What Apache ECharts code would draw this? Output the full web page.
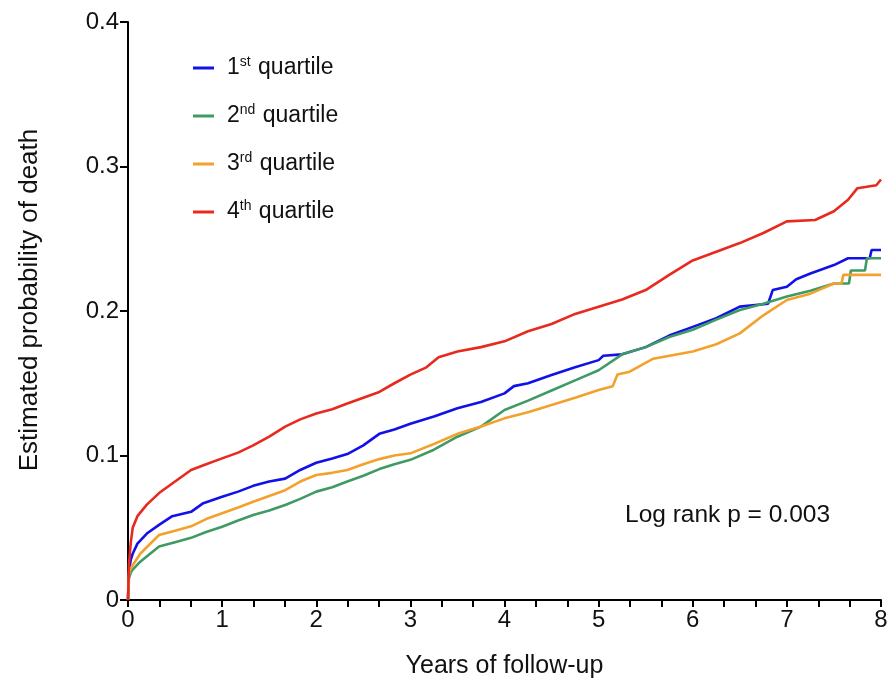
<!DOCTYPE html>
<html>
<head>
<meta charset="utf-8">
<script src="https://cdn.jsdelivr.net/npm/echarts@6/dist/echarts.min.js"></script>
<style>
  html, body { margin: 0; padding: 0; background: #fff; }
  #chart { width: 893px; height: 688px; }
</style>
</head>
<body>
<div id="chart"></div>
<script>
// years of follow-up, estimated probability of death
var q1 = [[0,0],[0.01,0.02],[0.03,0.028],[0.05,0.032],[0.1,0.039],[0.2,0.046],[0.33,0.052],[0.47,0.058],[0.67,0.061],[0.8,0.067],[1,0.0715],[1.17,0.075],[1.33,0.079],[1.5,0.082],[1.67,0.084],[1.83,0.09],[2,0.095],[2.17,0.098],[2.33,0.101],[2.5,0.107],[2.67,0.115],[2.83,0.118],[3,0.122],[3.25,0.127],[3.5,0.1327],[3.75,0.137],[4,0.143],[4.1,0.148],[4.25,0.15],[4.5,0.1557],[4.75,0.161],[5,0.166],[5.05,0.169],[5.25,0.17],[5.5,0.175],[5.75,0.183],[6,0.189],[6.25,0.195],[6.5,0.203],[6.8,0.205],[6.85,0.2145],[7,0.2168],[7.1,0.222],[7.25,0.226],[7.5,0.2318],[7.65,0.2365],[7.88,0.2365],[7.9,0.2422],[8,0.2422]];
var q2 = [[0,0],[0.01,0.015],[0.03,0.019],[0.05,0.021],[0.13,0.0265],[0.33,0.037],[0.5,0.04],[0.67,0.043],[0.83,0.047],[1,0.0507],[1.17,0.055],[1.33,0.0588],[1.5,0.062],[1.67,0.0657],[1.83,0.07],[2,0.075],[2.17,0.078],[2.33,0.082],[2.5,0.086],[2.67,0.0906],[2.83,0.094],[3,0.097],[3.25,0.104],[3.5,0.113],[3.75,0.12],[4,0.1315],[4.25,0.138],[4.5,0.145],[4.75,0.152],[5,0.159],[5.25,0.17],[5.5,0.175],[5.75,0.182],[6,0.187],[6.25,0.194],[6.5,0.2007],[6.75,0.205],[7,0.21],[7.25,0.214],[7.5,0.219],[7.66,0.219],[7.68,0.228],[7.83,0.228],[7.85,0.2365],[8,0.2365]];
var q3 = [[0,0],[0.01,0.018],[0.03,0.022],[0.05,0.024],[0.13,0.032],[0.33,0.045],[0.5,0.048],[0.67,0.051],[0.83,0.056],[1,0.06],[1.17,0.064],[1.33,0.068],[1.5,0.072],[1.67,0.076],[1.83,0.082],[2,0.0865],[2.17,0.088],[2.33,0.09],[2.5,0.094],[2.67,0.0975],[2.83,0.1],[3,0.1015],[3.25,0.108],[3.5,0.115],[3.75,0.12],[4,0.1257],[4.25,0.13],[4.5,0.135],[4.75,0.14],[5,0.1453],[5.15,0.148],[5.2,0.156],[5.33,0.158],[5.58,0.167],[6,0.172],[6.25,0.177],[6.5,0.1845],[6.75,0.197],[7,0.2076],[7.25,0.212],[7.5,0.219],[7.58,0.219],[7.6,0.225],[8,0.225]];
var q4 = [[0,0],[0.01,0.025],[0.03,0.04],[0.05,0.05],[0.1,0.058],[0.2,0.066],[0.33,0.074],[0.5,0.082],[0.67,0.09],[0.83,0.094],[1,0.098],[1.17,0.102],[1.33,0.107],[1.5,0.113],[1.67,0.12],[1.83,0.125],[2,0.129],[2.17,0.132],[2.33,0.136],[2.5,0.14],[2.67,0.144],[2.83,0.15],[3,0.156],[3.17,0.161],[3.3,0.168],[3.5,0.172],[3.75,0.175],[4,0.179],[4.25,0.186],[4.5,0.191],[4.75,0.198],[5,0.203],[5.25,0.208],[5.5,0.2145],[5.75,0.225],[6,0.235],[6.25,0.241],[6.5,0.247],[6.75,0.254],[7,0.262],[7.3,0.263],[7.5,0.269],[7.65,0.277],[7.75,0.285],[7.95,0.287],[8,0.291]];

var names = ['1{s|st} quartile', '2{s|nd} quartile', '3{s|rd} quartile', '4{s|th} quartile'];
var colors = ['#1111e8', '#3f9a64', '#f2a22c', '#e8291e'];
var curves = [q1, q2, q3, q4];

var font = 'Liberation Sans, Arial, sans-serif';
var myChart = echarts.init(document.getElementById('chart'));

series_data = [];
for (var i = 0; i < curves.length; i++) {
  series_data.push({
    name: names[i],
    type: 'line',
    data: curves[i],
    showSymbol: false,
    color: colors[i],
    lineStyle: { width: 2.6, color: colors[i] },
    animation: false
  });
}

option = {
  backgroundColor: '#fff',
  textStyle: { fontFamily: font },
  legend: {
    data: names,
    orient: 'vertical',
    left: 188,
    top: 50,
    itemWidth: 21,
    itemHeight: 3,
    itemGap: 22,
    icon: 'rect',
    textStyle: {
      fontSize: 23,
      lineHeight: 26,
      color: '#111',
      fontFamily: font,
      padding: [0, 0, 0, 8],
      rich: {
        s: { fontSize: 14, lineHeight: 14, verticalAlign: 'top', padding: [0, 1, 0, 0], fontFamily: font, color: '#111' }
      }
    }
  },
  grid: { left: 128, right: 12, top: 22, bottom: 88 },
  xAxis: {
    type: 'value',
    min: 0, max: 8, interval: 1,
    name: 'Years of follow-up',
    nameLocation: 'middle',
    nameGap: 54,
    nameTextStyle: { fontSize: 25, color: '#111', fontFamily: font },
    axisLine: { lineStyle: { color: '#000', width: 2 } },
    axisTick: { length: 7, lineStyle: { color: '#000', width: 2 } },
    minorTick: { show: true, splitNumber: 3, length: 7, lineStyle: { color: '#000', width: 2 } },
    axisLabel: { fontSize: 24, color: '#111', margin: 8, fontFamily: font },
    splitLine: { show: false }
  },
  yAxis: {
    type: 'value',
    min: 0, max: 0.4, interval: 0.1,
    axisLine: { show: true, lineStyle: { color: '#000', width: 2 } },
    axisTick: { show: true, length: 8, lineStyle: { color: '#000', width: 2 } },
    axisLabel: { fontSize: 24, color: '#111', margin: 9, fontFamily: font },
    splitLine: { show: false }
  },
  graphic: [{
    type: 'text',
    x: 30,
    y: 300,
    rotation: Math.PI / 2,
    style: {
      text: 'Estimated probability of death',
      fontSize: 26, fill: '#111', fontFamily: font,
      align: 'center', verticalAlign: 'middle'
    }
  }, {
    type: 'text',
    left: 625,
    top: 503,
    style: { text: 'Log rank p = 0.003', fontSize: 24.5, fill: '#111', fontFamily: font }
  }],
  series: series_data
};
myChart.setOption(option);
</script>
</body>
</html>
